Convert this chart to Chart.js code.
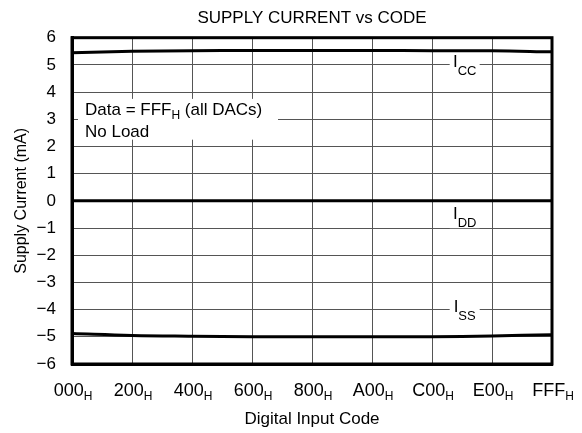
<!DOCTYPE html>
<html>
<head>
<meta charset="utf-8">
<script src="https://cdn.jsdelivr.net/npm/chart.js@4/dist/chart.umd.min.js"></script>
<style>
    html, body { margin: 0; padding: 0; background: #fff; }
    #wrap { width: 582px; height: 433px; }
</style>
</head>
<body>
<div id="wrap"><canvas id="chart"></canvas></div>
<script>
// Digital input codes (x positions) and their tick labels
const codes = [0, 512, 1024, 1536, 2048, 2560, 3072, 3584, 4095];
const codeLabels = ['000', '200', '400', '600', '800', 'A00', 'C00', 'E00', 'FFF'];

// Supply currents in mA
const iccValues = [5.45, 5.5, 5.52, 5.53, 5.53, 5.53, 5.52, 5.52, 5.48];
const iddValues = [0, 0, 0, 0, 0, 0, 0, 0, 0];
const issValues = [-4.88, -4.95, -4.98, -5.0, -5.0, -5.0, -5.0, -4.97, -4.92];

// Curve names, each drawn as I + subscript, placed at [code, mA]
const curveNames = [
    { main: 'I', sub: 'CC', at: [3350, 5.0] },
    { main: 'I', sub: 'DD', at: [3350, -0.6] },
    { main: 'I', sub: 'SS', at: [3350, -4.0] },
];

const FONT = '"Liberation Sans", Arial, Helvetica, sans-serif';

function toPoints(values) {
    return values.map((v, i) => ({ x: codes[i], y: v }));
}

// draw "main" with a subscript; align 'center' or 'left' at x, baseline at y
function drawSubText(ctx, main, sub, x, y, size, subSize, drop, align) {
    ctx.font = `${size}px ${FONT}`;
    const w1 = ctx.measureText(main).width;
    ctx.font = `${subSize}px ${FONT}`;
    const w2 = ctx.measureText(sub).width;
    const left = align === 'left' ? x : x - (w1 + w2) / 2;
    ctx.textAlign = 'left';
    ctx.textBaseline = 'alphabetic';
    ctx.fillStyle = '#000';
    ctx.font = `${size}px ${FONT}`;
    ctx.fillText(main, left, y);
    ctx.font = `${subSize}px ${FONT}`;
    ctx.fillText(sub, left + w1, y + drop);
    return w1 + w2;
}

const labelPlugin = {
    id: 'labels',
    beforeDatasetsDraw: (chart) => {
        const ctx = chart.ctx;
        const xs = chart.scales.x;
        const ys = chart.scales.y;
        const area = chart.chartArea;
        ctx.save();

        // curve names with white backing that breaks the grid
        curveNames.forEach((c) => {
            const x = xs.getPixelForValue(c.at[0]);
            const y = ys.getPixelForValue(c.at[1]);
            ctx.fillStyle = '#fff';
            ctx.fillRect(x - 15, y - 10, 30, 21);
            drawSubText(ctx, c.main, c.sub, x, y + 2, 17, 13, 8, 'center');
        });

        // condition note in the upper left
        const top = ys.getPixelForValue(3.75);
        const bottom = ys.getPixelForValue(2.25);
        const tx = area.left + 13;
        ctx.font = `17px ${FONT}`;
        ctx.fillStyle = '#fff';
        ctx.fillRect(area.left + 6, top, 200, bottom - top);
        const base1 = ys.getPixelForValue(3) - 4;
        const w = drawSubText(ctx, 'Data = FFF', 'H', tx, base1, 17, 12, 4, 'left');
        ctx.font = `17px ${FONT}`;
        ctx.textAlign = 'left';
        ctx.fillText(' (all DACs)', tx + w, base1);
        ctx.fillText('No Load', tx, base1 + 22);
        ctx.restore();
    },
    afterDraw: (chart) => {
        const ctx = chart.ctx;
        const xs = chart.scales.x;
        const area = chart.chartArea;
        ctx.save();
        ctx.strokeStyle = '#000';
        ctx.lineWidth = 3;
        ctx.strokeRect(area.left, area.top, area.right - area.left, area.bottom - area.top);
        // x tick labels with hex subscript
        codes.forEach((c, i) => {
            const x = xs.getPixelForValue(c);
            drawSubText(ctx, codeLabels[i], 'H', x + 1, area.bottom + 32, 18, 12, 4, 'center');
        });
        ctx.restore();
    },
};

const lineStyle = {
    borderColor: '#000',
    borderWidth: 3,
    pointRadius: 0,
    tension: 0.4,
    fill: false,
};

new Chart(document.getElementById('chart'), {
    type: 'line',
    data: {
        datasets: [
            { label: 'ICC', data: toPoints(iccValues), ...lineStyle },
            { label: 'IDD', data: toPoints(iddValues), ...lineStyle },
            { label: 'ISS', data: toPoints(issValues), ...lineStyle },
        ],
    },
    plugins: [labelPlugin],
    options: {
        responsive: true,
        maintainAspectRatio: false,
        animation: false,
        layout: { padding: { left: 0, right: 30, top: 0, bottom: 0 } },
        plugins: {
            legend: { display: false },
            tooltip: { enabled: false },
            title: {
                display: true,
                fullSize: false,
                text: 'SUPPLY CURRENT vs CODE',
                color: '#000',
                font: { family: FONT, size: 17, weight: 'normal', lineHeight: 1.2 },
                padding: { top: 8, bottom: 9.3 },
            },
        },
        scales: {
            x: {
                type: 'linear',
                min: 0,
                max: 4095,
                afterBuildTicks: (axis) => {
                    axis.ticks = codes.map((v) => ({ value: v }));
                },
                afterFit: (axis) => {
                    axis.height = 69;
                },
                ticks: {
                    display: false,
                },
                grid: { color: '#555', lineWidth: 1, drawTicks: false },
                border: { color: '#000', width: 3 },
                title: {
                    display: true,
                    text: 'Digital Input Code',
                    color: '#000',
                    font: { family: FONT, size: 17, lineHeight: 1.2 },
                    padding: { top: 0, bottom: 3 },
                },
            },
            y: {
                min: -6,
                max: 6,
                afterFit: (axis) => {
                    axis.width = 72;
                },
                ticks: {
                    stepSize: 1,
                    color: '#000',
                    font: { family: FONT, size: 17 },
                    padding: 16,
                    callback: (v) => String(v).replace('-', '\u2212'),
                },
                grid: { color: '#555', lineWidth: 1, drawTicks: false },
                border: { color: '#000', width: 3 },
                title: {
                    display: true,
                    text: 'Supply Current (mA)',
                    color: '#000',
                    font: { family: FONT, size: 16, lineHeight: 1.2 },
                    padding: { top: 12, bottom: 0 },
                },
            },
        },
    },
});
</script>
</body>
</html>
